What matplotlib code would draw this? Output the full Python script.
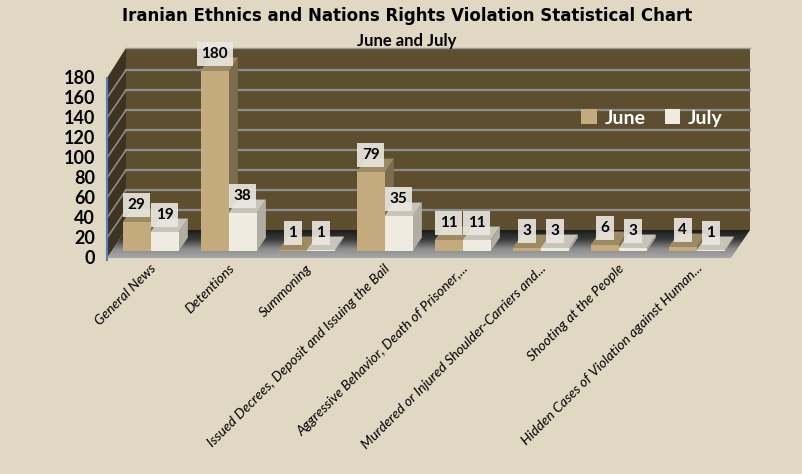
import numpy as np
import matplotlib.pyplot as plt
from matplotlib.patches import Polygon
from matplotlib.colors import LinearSegmentedColormap

# === DATA ===
categories = ["General News", "Detentions", "Summoning",
              "Issued Decrees, Deposit and Issuing the Bail",
              "Aggressive Behavior, Death of Prisoner,...",
              "Murdered or Injured Shoulder-Carriers and...",
              "Shooting at the People",
              "Hidden Cases of Violation against Human..."]
june = [29, 180, 1, 79, 11, 3, 6, 4]
july = [19, 38, 1, 35, 11, 3, 3, 1]
yticks = list(range(0, 181, 20))

# === STYLE ===
bg = "#e0d8c3"
wall_c = "#5e4e30"
side_wall_c = "#3e3422"
grid_c = "#8c8c8c"
june_c = ("#c3ab7d", "#9c8a63", "#7b6c4d")   # front, top, side
july_c = ("#f0ebe1", "#c9c4ba", "#b2ada3")
plt.rcParams['font.family'] = ['Lato', 'DejaVu Sans']

# pixel layout -> data units (x: categories, y: values)
PX_X0, PX_CAT = 146.0, 78.0
PX_Y0 = 258.0
DX, DY = 19 / PX_CAT, 28.0        # depth offset of back wall
D0, D1 = 0.25, 0.73               # bar depth range
W = 28 / PX_CAT                   # bar width
N = len(categories)
YMAX = yticks[-1]

fig = plt.figure(figsize=(8.03, 4.74), dpi=100, facecolor=bg)
ax = fig.add_axes([0, 0, 1, 1])
ax.set_axis_off()

# back wall + grid
ax.add_patch(Polygon([(-0.5 + DX, DY), (N - 0.5 + DX, DY),
                      (N - 0.5 + DX, YMAX + DY + 2), (-0.5 + DX, YMAX + DY + 2)],
                     closed=True, fc=wall_c, ec="none", zorder=1))
ax.add_patch(Polygon([(-0.5, 0), (-0.5 + DX, DY), (-0.5 + DX, YMAX + DY + 2), (-0.5, YMAX)],
                     closed=True, fc=side_wall_c, ec="none", zorder=1))
for v in yticks[1:-1]:
    ax.plot([-0.5 + DX, N - 0.5 + DX], [v + DY, v + DY], color=grid_c, lw=1.6, zorder=2)
    ax.plot([-0.5, -0.5 + DX], [v, v + DY], color=grid_c, lw=1.2, zorder=2)
ax.plot([-0.5 + DX, N - 0.5 + DX], [YMAX + DY + 2] * 2, color="#9a9a9a", lw=1.0, zorder=2)

# floor with gradient
floor = Polygon([(-0.5, 0), (N - 0.5, 0), (N - 0.5 + DX, DY), (-0.5 + DX, DY)],
                closed=True, fc="none", ec="none", zorder=2)
ax.add_patch(floor)
grad = np.linspace(0, 1, 64).reshape(-1, 1)
fcmap = LinearSegmentedColormap.from_list("floor", ["#a8a8a8", "#8a8a8a", "#3a3a3a", "#1c1c1c"])
im = ax.imshow(grad, cmap=fcmap, origin="lower", aspect="auto",
               extent=[-0.5, N - 0.5 + DX, 0, DY], zorder=2)
im.set_clip_path(floor)

# axis line
ax.plot([-0.5, -0.5], [-2, YMAX], color="#4f81bd", lw=1.5, zorder=3)

# bars
x = np.arange(N)
for i in range(N):
    for vals, cols, left in ((june, june_c, x[i] - W), (july, july_c, x[i])):
        v = vals[i]
        xl, xr = left + DX * D0, left + W + DX * D0
        y0 = DY * D0
        ax.add_patch(Polygon([(xr, y0), (xr + DX * (D1 - D0), DY * D1),
                              (xr + DX * (D1 - D0), v + DY * D1), (xr, v + y0)],
                             closed=True, fc=cols[2], ec="none", zorder=4))
        ax.add_patch(Polygon([(xl, v + y0), (xr, v + y0),
                              (xr + DX * (D1 - D0), v + DY * D1), (xl + DX * (D1 - D0), v + DY * D1)],
                             closed=True, fc=cols[1], ec="none", zorder=4))
        ax.bar(xl, v, W, bottom=y0, align="edge", color=cols[0], zorder=4)
        ax.text(xl + W / 2, v + y0 + 17, str(v), ha="center", va="center",
                fontsize=11, fontweight="bold", color="black", zorder=6,
                bbox=dict(boxstyle="square,pad=0.3", fc="#ebe8e1", ec="none", alpha=0.9))

# y tick labels
for v in yticks:
    ax.text(-0.5 - 12 / PX_CAT, v, str(v), ha="right", va="center",
            fontsize=13, fontweight="bold", color="black")

# category labels
for i, name in enumerate(categories):
    ax.text(x[i] + 4 / PX_CAT, -4, name, rotation=45, rotation_mode="anchor",
            ha="right", va="top", fontsize=10, style="italic", color="black")

# legend
h1 = plt.Rectangle((0, 0), 1, 1, fc=june_c[0])
h2 = plt.Rectangle((0, 0), 1, 1, fc=july_c[0])
leg = fig.legend([h1, h2], ["June", "July"], loc="center", ncol=2,
                 bbox_to_anchor=(652 / 803, 1 - 118 / 474), frameon=False,
                 prop=dict(weight="bold", size=14), labelcolor="white",
                 handlelength=0.8, handleheight=0.8, handletextpad=0.4, columnspacing=1.0)

# titles
fig.text(407 / 803, 1 - 16 / 474, "Iranian Ethnics and Nations Rights Violation Statistical Chart",
         ha="center", va="center", fontsize=12, fontweight="bold", family="DejaVu Sans")
fig.text(407 / 803, 1 - 41 / 474, "June and July", ha="center", va="center",
         fontsize=12, fontweight="bold")

ax.set_xlim(-PX_X0 / PX_CAT, (803 - PX_X0) / PX_CAT)
ax.set_ylim(PX_Y0 - 474, PX_Y0)

fig.savefig("out.png", dpi=100, facecolor=bg)
